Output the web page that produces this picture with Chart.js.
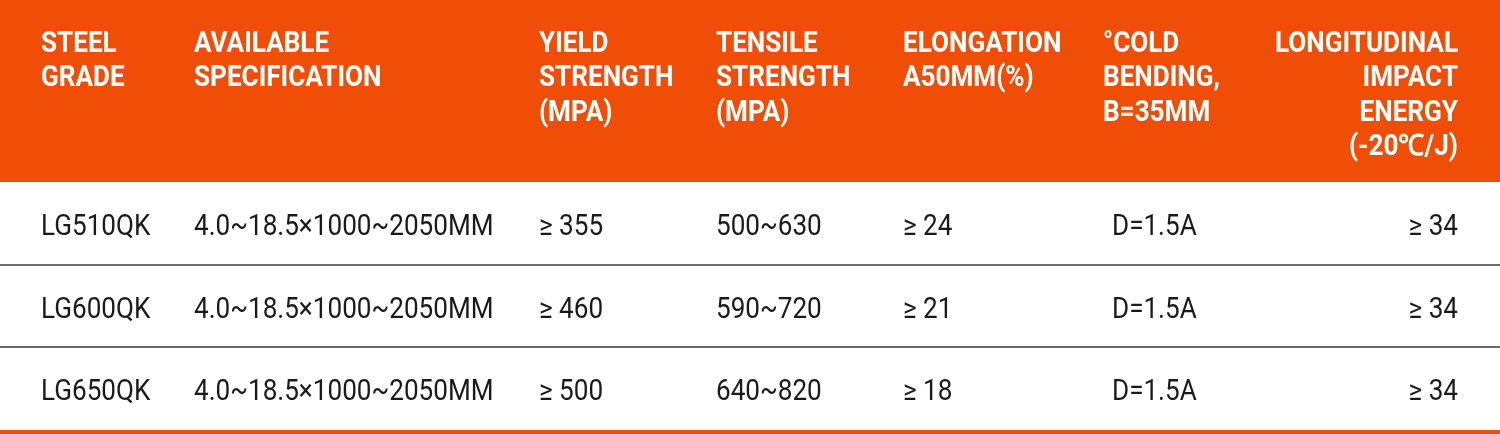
<!DOCTYPE html>
<html>
<head>
<meta charset="utf-8">
<script src="https://cdn.jsdelivr.net/npm/chart.js@4.4.1/dist/chart.umd.min.js"></script>
<style>
    html, body { margin: 0; padding: 0; background: #ffffff; }
    #wrap { width: 1500px; height: 434px; }
</style>
</head>
<body>
<div id="wrap"><canvas id="gradeTable" width="1500" height="434"></canvas></div>
<script>
// ---- TABLE DATA ----
const grades = ['LG510QK', 'LG600QK', 'LG650QK'];
const specifications = ['4.0~18.5×1000~2050MM', '4.0~18.5×1000~2050MM', '4.0~18.5×1000~2050MM'];
const yieldStrength = ['≥ 355', '≥ 460', '≥ 500'];
const tensileStrength = ['500~630', '590~720', '640~820'];
const elongation = ['≥ 24', '≥ 21', '≥ 18'];
const coldBending = ['D=1.5A', 'D=1.5A', 'D=1.5A'];
const impactEnergy = ['≥ 34', '≥ 34', '≥ 34'];

const headerLines = [
    ['STEEL', 'GRADE'],
    ['AVAILABLE', 'SPECIFICATION'],
    ['YIELD', 'STRENGTH', '(MPA)'],
    ['TENSILE', 'STRENGTH', '(MPA)'],
    ['ELONGATION', 'A50MM(%)'],
    ['°COLD', 'BENDING,', 'B=35MM'],
    ['LONGITUDINAL', 'IMPACT', 'ENERGY', '(-20℃/J)']
];

const columns = [grades, specifications, yieldStrength, tensileStrength, elongation, coldBending, impactEnergy];

// ---- LAYOUT ----
const ORANGE = '#f04e07';
const colAnchor = [41, 194, 539, 716, 903, 1103, 1458];   // px on the 0..1500 x scale
const colAlign = ['left', 'left', 'left', 'left', 'left', 'left', 'right'];
const bodyShift = [0, 0, 0, 0, 0, 9, 0];
const headerHeight = 182;

// draws text squeezed horizontally (page font is a condensed face)
function drawText(ctx, text, x, y, align, squeeze) {
    ctx.save();
    ctx.translate(x, y);
    ctx.scale(squeeze, 1);
    ctx.textAlign = align;
    ctx.fillText(text, 0, 0);
    ctx.restore();
}

const tablePlugin = {
    id: 'tablePlugin',
    afterDraw(chart) {
        const ctx = chart.ctx;
        const xs = chart.scales.x;
        const ys = chart.scales.y;
        const area = chart.chartArea;
        const band = ys.getPixelForValue(1) - ys.getPixelForValue(0);

        ctx.save();

        // header band
        ctx.fillStyle = ORANGE;
        ctx.fillRect(0, 0, chart.width, headerHeight);

        ctx.fillStyle = '#ffffff';
        ctx.font = 'bold 29px Roboto';
        ctx.textBaseline = 'alphabetic';
        headerLines.forEach((lines, c) => {
            lines.forEach((line, k) => {
                drawText(ctx, line, xs.getPixelForValue(colAnchor[c]), 52 + k * 34.4, colAlign[c], 0.9);
            });
        });

        // row separators
        ctx.strokeStyle = '#6b6b6b';
        ctx.lineWidth = 2;
        for (let i = 1; i < grades.length; i++) {
            const y = Math.round(ys.getPixelForValue(i) - band / 2);
            ctx.beginPath();
            ctx.moveTo(0, y);
            ctx.lineTo(chart.width, y);
            ctx.stroke();
        }

        // bottom rule
        ctx.fillStyle = ORANGE;
        ctx.fillRect(0, area.bottom, chart.width, chart.height - area.bottom);

        // body cells
        ctx.fillStyle = '#1a1a1a';
        ctx.font = '29px Roboto';
        columns.forEach((values, c) => {
            values.forEach((val, r) => {
                const y = ys.getPixelForValue(r) + 11.5;
                drawText(ctx, val, xs.getPixelForValue(colAnchor[c]) + bodyShift[c], y, colAlign[c], 0.9);
            });
        });

        ctx.restore();
    }
};

new Chart(document.getElementById('gradeTable'), {
    type: 'bar',
    data: {
        labels: grades,
        datasets: []
    },
    options: {
        responsive: false,
        animation: false,
        devicePixelRatio: 1,
        indexAxis: 'y',
        layout: { padding: { top: headerHeight, bottom: 4, left: 0, right: 0 } },
        plugins: {
            legend: { display: false },
            tooltip: { enabled: false }
        },
        scales: {
            x: { type: 'linear', min: 0, max: 1500, display: false },
            y: { type: 'category', offset: true, display: false }
        }
    },
    plugins: [tablePlugin]
});
</script>
</body>
</html>
